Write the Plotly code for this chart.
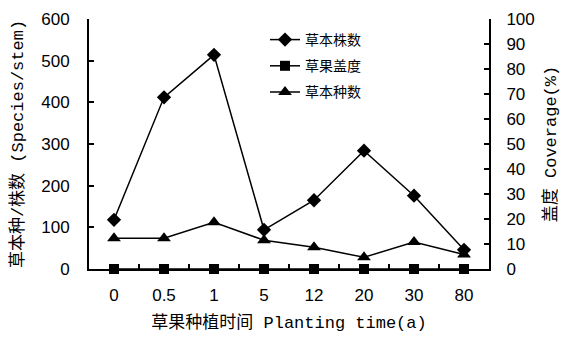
import plotly.graph_objects as go

# Planting time categories (years)
years = ["0", "0.5", "1", "5", "12", "20", "30", "80"]
# Herb stem count (left axis)
stem_count = [118, 412, 514, 94, 165, 284, 176, 46]
# Herb species count (left axis)
species_count = [74, 74, 112, 69, 52, 28, 65, 35]
# Cardamom coverage, % (right axis)
coverage = [0, 0, 0, 0, 0, 0, 0, 0]

tick_font = dict(family="Liberation Sans, Arial, sans-serif", size=17, color="black")
cjk_font = "Liberation Mono, Noto Sans CJK SC, sans-serif"

fig = go.Figure()
fig.add_trace(go.Scatter(
    x=years, y=stem_count, name="草本株数", mode="lines+markers", legendgroup="a",
    line=dict(color="black", width=1.5),
    marker=dict(symbol="diamond", size=11, color="black"),
))
fig.add_trace(go.Scatter(
    x=years, y=coverage, name="草果盖度", mode="lines+markers", yaxis="y2", legendgroup="b",
    line=dict(color="black", width=1.5),
    marker=dict(symbol="square", size=10, color="black"),
    cliponaxis=False,
))
fig.add_trace(go.Scatter(
    x=years, y=species_count, name="草本种数", mode="lines+markers", legendgroup="c",
    line=dict(color="black", width=1.5),
    marker=dict(symbol="triangle-up", size=12, color="black"),
))

fig.update_layout(
    width=567, height=337,
    margin=dict(l=89, r=78, t=19, b=68),
    plot_bgcolor="white", paper_bgcolor="white",
    showlegend=True,
    legend=dict(
        x=0.44, y=0.98, xanchor="left", yanchor="top",
        font=dict(family="Noto Sans CJK SC", size=14, color="black"),
        bgcolor="rgba(0,0,0,0)", traceorder="grouped", tracegroupgap=5,
    ),
    xaxis=dict(
        type="category", categoryorder="array", categoryarray=years,
        range=[-0.5, 7.5], showline=True, linecolor="black", linewidth=2,
        ticks="inside", tickson="boundaries", ticklen=5, tickwidth=1.5,
        tickcolor="black", showgrid=False, zeroline=False,
        tickfont=tick_font, ticklabelstandoff=10, automargin=False,
        title=dict(text="草果种植时间 Planting time(a)",
                   font=dict(family=cjk_font, size=17, color="black"), standoff=12),
    ),
    yaxis=dict(
        range=[0, 600], dtick=100, showline=True, linecolor="black", linewidth=2,
        ticks="inside", ticklen=5, tickwidth=2, tickcolor="black",
        showgrid=False, zeroline=False, tickfont=tick_font, ticklabelstandoff=14,
        automargin=False,
        title=dict(text="草本种/株数 (Species/stem)",
                   font=dict(family=cjk_font, size=17, color="black"), standoff=13),
    ),
    yaxis2=dict(
        range=[0, 100], dtick=10, overlaying="y", side="right",
        showline=True, linecolor="black", linewidth=2,
        ticks="inside", ticklen=5, tickwidth=2, tickcolor="black",
        showgrid=False, zeroline=False, tickfont=tick_font, ticklabelstandoff=12,
        automargin=False,
        title=dict(text="盖度 Coverage(%)",
                   font=dict(family=cjk_font, size=17, color="black"), standoff=10),
    ),
)

fig.write_html("out.html")
